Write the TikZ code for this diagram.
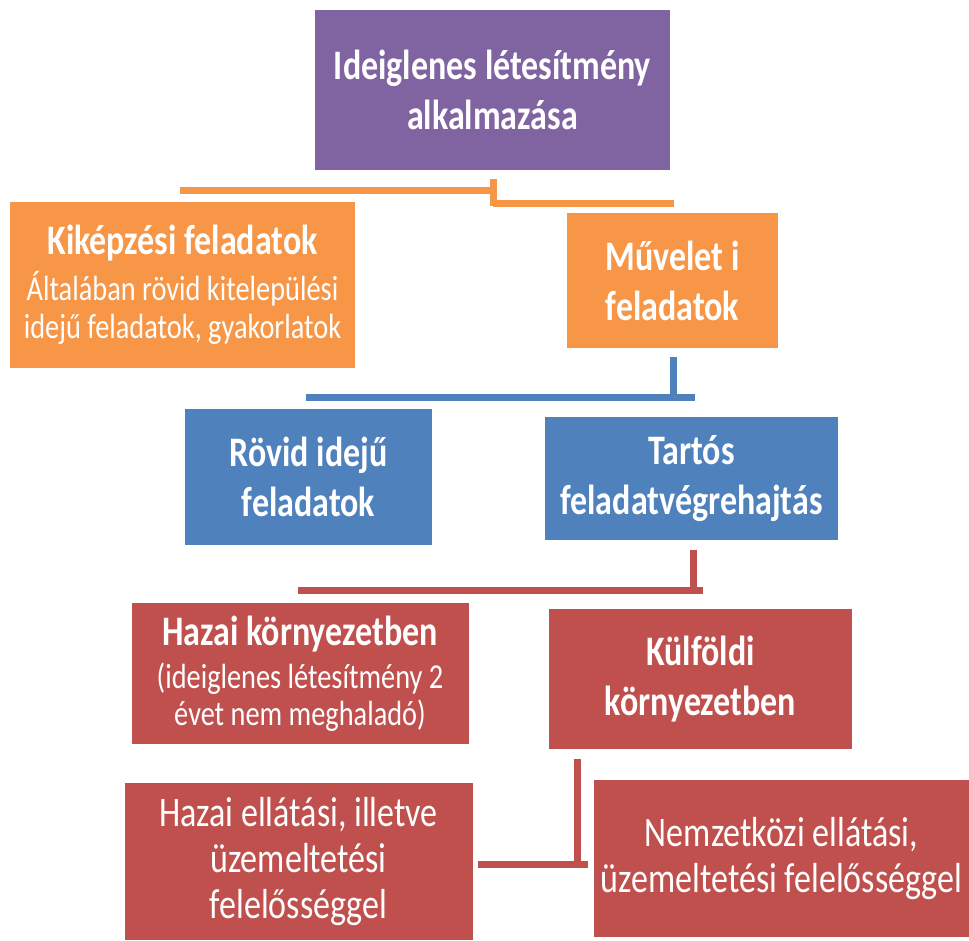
\documentclass[tikz,border=0pt]{standalone}
\usepackage{fontspec}
\setmainfont{Carlito}[FakeStretch=0.81]
\definecolor{cpurple}{HTML}{8064A2}
\definecolor{corange}{HTML}{F79646}
\definecolor{cblue}{HTML}{4F81BD}
\definecolor{cred}{HTML}{C0504D}
\tikzset{
  box/.style={rectangle, inner sep=0pt, text=white, align=center, anchor=center},
  big/.style={font=\fontsize{42}{50}\selectfont\bfseries},
  reg/.style={font=\fontsize{42}{46}\selectfont},
  conn/.style={line width=7pt, line cap=butt}
}
\begin{document}
\begin{tikzpicture}[x=1pt,y=-1pt]
\useasboundingbox (0,0) rectangle (969,940);
% boxes
\node[box, big, fill=cpurple, minimum width=355pt, minimum height=160pt] (top) at (492.5,90) {Ideiglenes létesítmény\\alkalmazása};
\node[box, fill=corange, minimum width=345pt, minimum height=166pt, font=\fontsize{35}{38}\selectfont] (kik) at (182.5,285)
  {{\fontsize{42}{40}\selectfont\bfseries Kiképzési feladatok}\\[8pt]Általában rövid kitelepülési\\idejű feladatok, gyakorlatok};
\node[box, big, fill=corange, minimum width=211pt, minimum height=135pt] (muv) at (672.5,280.5) {Művelet i\\feladatok};
\node[box, big, fill=cblue, minimum width=247pt, minimum height=136pt] (rov) at (308.5,477) {Rövid idejű\\feladatok};
\node[box, big, fill=cblue, minimum width=293pt, minimum height=123pt] (tar) at (691.5,478.5) {Tartós\\feladatvégrehajtás};
\node[box, fill=cred, minimum width=337pt, minimum height=141pt, font=\fontsize{35}{37}\selectfont] (haz) at (300,673.5)
  {{\fontsize{42}{42}\selectfont\bfseries Hazai környezetben}\\[6pt](ideiglenes létesítmény 2\\évet nem meghaladó)};
\node[box, big, fill=cred, minimum width=303pt, minimum height=140pt] (kul) at (700.5,679) {Külföldi\\környezetben};
\node[box, reg, fill=cred, minimum width=348pt, minimum height=157pt] (hel) at (298.5,861.5) {Hazai ellátási, illetve\\üzemeltetési\\felelősséggel};
\node[box, reg, fill=cred, minimum width=376pt, minimum height=157pt] (nem) at (781.5,858.5) {Nemzetközi ellátási,\\üzemeltetési felelősséggel};
% connector coordinates
\coordinate (oL) at (180,190);
\coordinate (oT) at (493,179);
\coordinate (oB) at (493,206);
\coordinate (oM) at (493,190);
\coordinate (oN) at (493,203);
\coordinate (oR) at (674,203);
\coordinate (bT) at (673,357);
\coordinate (bB) at (673,401);
\coordinate (bL) at (306,397.5);
\coordinate (bR) at (695,397.5);
\coordinate (rT) at (693,550);
\coordinate (rB) at (693,594);
\coordinate (rL) at (298,590.5);
\coordinate (rR) at (703,590.5);
\coordinate (sT) at (577,759);
\coordinate (sB) at (577,868);
\coordinate (sL) at (478,864);
\coordinate (sR) at (588,864);
% connectors
\draw[conn, corange] (oL) -- (oM);
\draw[conn, corange] (oT) -- (oB);
\draw[conn, corange] (oN) -- (oR);
\draw[conn, cblue] (bT) -- (bB);
\draw[conn, cblue] (bL) -- (bR);
\draw[conn, cred] (rT) -- (rB);
\draw[conn, cred] (rL) -- (rR);
\draw[conn, cred] (sT) -- (sB);
\draw[conn, cred] (sL) -- (sR);
\end{tikzpicture}
\end{document}
